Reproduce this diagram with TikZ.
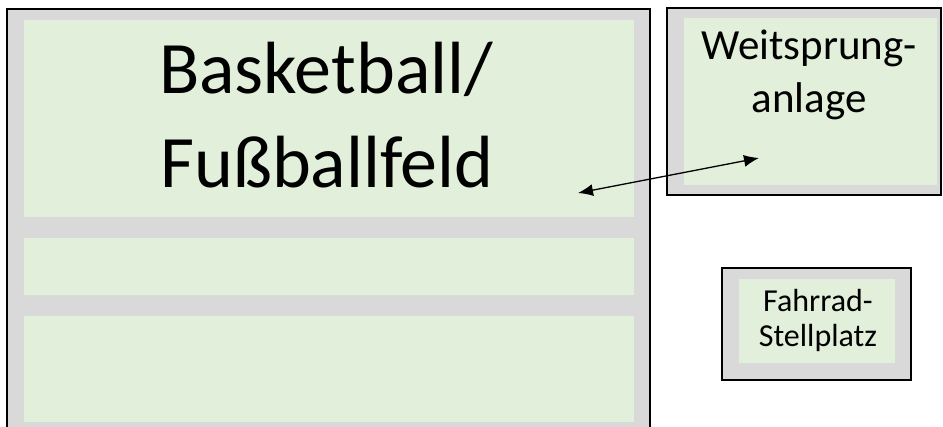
\documentclass[tikz,border=0pt]{standalone}
\usepackage{fontspec}
\setmainfont{Carlito}
\usetikzlibrary{arrows.meta}
\definecolor{frame}{HTML}{D9D9D9}
\definecolor{lawn}{HTML}{E2EFDA}
\tikzset{
  outerbox/.style={draw=black, line width=2pt, fill=frame},
  innerbox/.style={fill=lawn, draw=none},
  bigtxt/.style={font=\fontsize{74}{94}\selectfont, anchor=base, inner sep=0pt},
  midtxt/.style={font=\fontsize{43}{53}\selectfont, anchor=base, inner sep=0pt},
  smalltxt/.style={font=\fontsize{32}{36}\selectfont, anchor=base, inner sep=0pt},
  link/.style={line width=1.3pt, {Latex[length=15pt,width=12pt]}-{Latex[length=15pt,width=12pt]}}
}
\begin{document}
\begin{tikzpicture}[x=1pt,y=-1pt]
\useasboundingbox (0,0) rectangle (943,427);
\begin{scope}
\clip (0,0) rectangle (943,427);
% sports field with three strips
\draw[outerbox] (7,9) rectangle (650,445);
\fill[innerbox] (24,20) rectangle (634,217);
\fill[innerbox] (24,238) rectangle (634,295);
\fill[innerbox] (24,316) rectangle (634,422);
\end{scope}
\node[bigtxt] (field1) at (326,94) {Basketball/};
\node[bigtxt] (field2) at (327,188) {Fußballfeld};

% long jump pit
\draw[outerbox] (667,8) rectangle (941,195);
\fill[innerbox] (684,18) rectangle (937,185);
\node[midtxt] (jump1) at (809,60) {Weitsprung-};
\node[midtxt] (jump2) at (809,113) {anlage};

% bicycle parking
\draw[outerbox] (722,268) rectangle (911,380);
\fill[innerbox] (739,279) rectangle (895,363);
\node[smalltxt] (bike1) at (818,312) {Fahrrad-};
\node[smalltxt] (bike2) at (818,347) {Stellplatz};

% connection between field and long jump pit
\coordinate (fieldend) at (578,193);
\coordinate (jumpend) at (759,158);
\draw[link] (fieldend) -- (jumpend);
\end{tikzpicture}
\end{document}
